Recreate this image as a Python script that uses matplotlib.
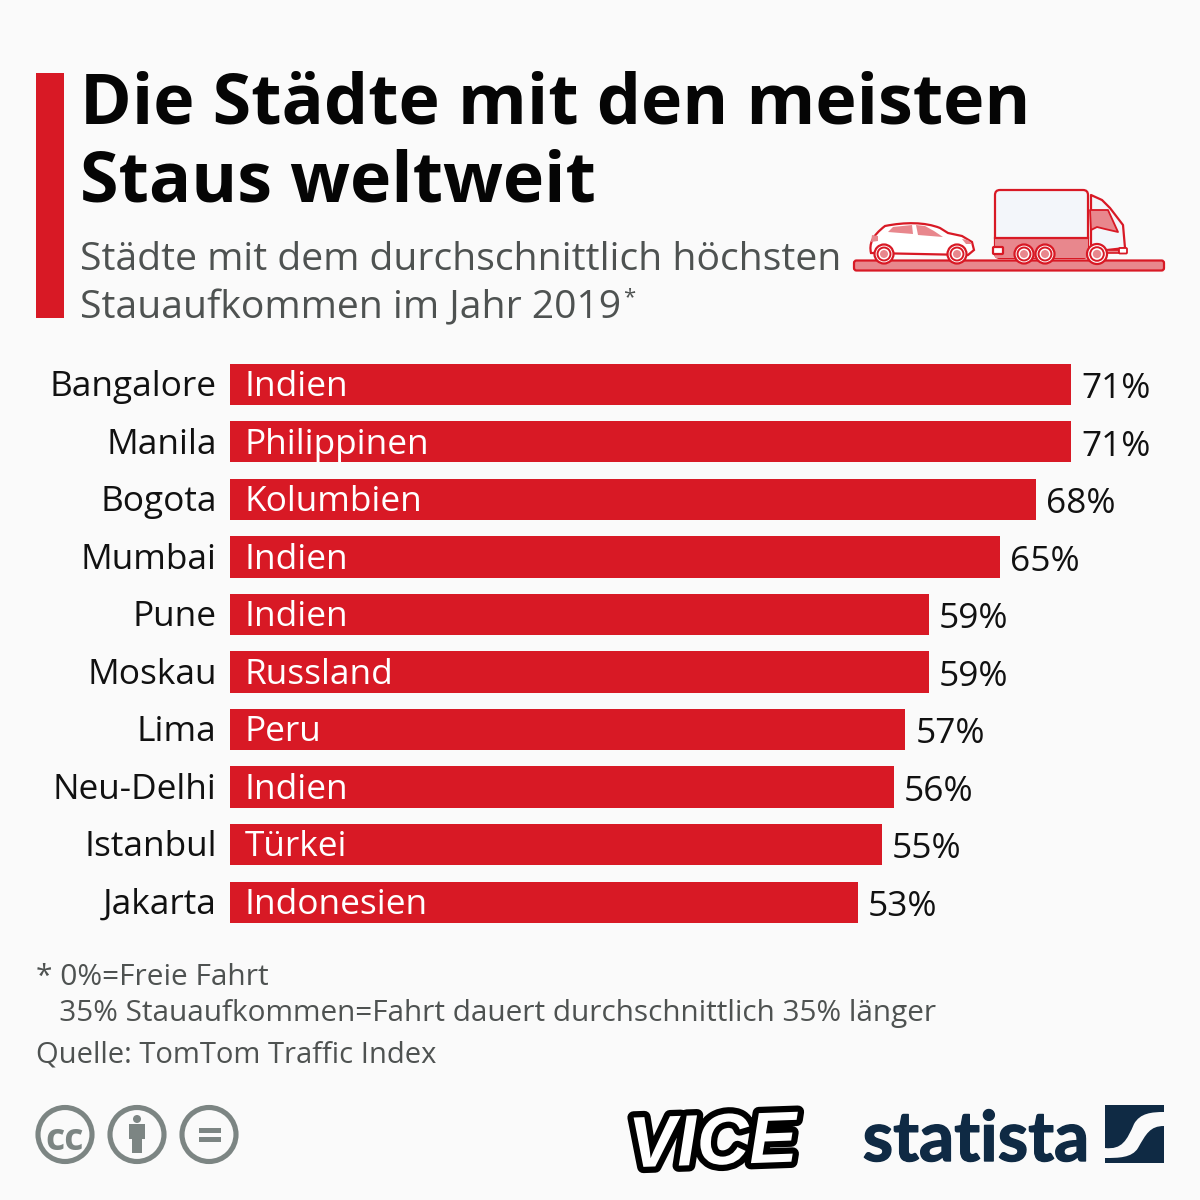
import matplotlib
matplotlib.use("Agg")
import matplotlib.pyplot as plt
import matplotlib.patheffects as pe
from matplotlib.patches import Rectangle, Circle, FancyBboxPatch, Polygon, PathPatch
from matplotlib.path import Path

cities = ["Bangalore", "Manila", "Bogota", "Mumbai", "Pune", "Moskau", "Lima", "Neu-Delhi", "Istanbul", "Jakarta"]
countries = ["Indien", "Philippinen", "Kolumbien", "Indien", "Indien", "Russland", "Peru", "Indien", "Türkei", "Indonesien"]
values = [71, 71, 68, 65, 59, 59, 57, 56, 55, 53]
title_lines = ["Die Städte mit den meisten", "Staus weltweit"]
subtitle_lines = ["Städte mit dem durchschnittlich höchsten", "Stauaufkommen im Jahr 2019"]
notes = ["* 0%=Freie Fahrt", "   35% Stauaufkommen=Fahrt dauert durchschnittlich 35% länger", "Quelle: TomTom Traffic Index"]

BG = "#fafafa"
RED = "#d81925"
PINK = "#e8878d"
GREY = "#7c8583"
NAVY = "#0f2a44"
TXT = "#111111"
SUB = "#4e5251"
FONT = "Open Sans"
plt.rcParams["font.family"] = [FONT, "DejaVu Sans"]

fig = plt.figure(figsize=(12, 12), dpi=100, facecolor=BG)

# pixel-space overlay
ov = fig.add_axes([0, 0, 1, 1], zorder=1)
ov.set_xlim(0, 1200); ov.set_ylim(1200, 0); ov.axis("off")

# bars
W, H = 1200, 1200
left, right = 230, 1071.3
top, bottom = 355.5, 931
ax = fig.add_axes([left / W, 1 - bottom / H, (right - left) / W, (bottom - top) / H], zorder=2)
ax.patch.set_alpha(0)
ax.set_xlim(0, 71)
ax.set_ylim(len(cities) - 0.5, -0.5)
ax.axis("off")
ypos = list(range(len(cities)))
ax.barh(ypos, values, height=0.718, color=RED)
for y, c, k, v in zip(ypos, cities, countries, values):
    ax.annotate(c, (0, y), xytext=(-13.5, 1.3), textcoords="offset pixels", ha="right", va="center_baseline", fontsize=25.4, color=TXT, annotation_clip=False)
    ax.annotate(k, (0, y), xytext=(14.5, 1.3), textcoords="offset pixels", ha="left", va="center_baseline", fontsize=25.4, color="white", annotation_clip=False)
    ax.annotate(f"{v}%", (v, y), xytext=(10, -0.7), textcoords="offset pixels", ha="left", va="center_baseline", fontsize=25.4, color=TXT, annotation_clip=False)

# header
ov.add_patch(Rectangle((36, 73), 28, 245, color=RED, lw=0))
ov.text(80, 123.5, title_lines[0], fontsize=50.4, fontweight="bold", color="#050505", va="baseline")
ov.text(80, 202, title_lines[1], fontsize=50.4, fontweight="bold", color="#050505", va="baseline")
ov.text(80, 270, subtitle_lines[0], fontsize=28.13, color=SUB, va="baseline")
ov.text(80, 318, subtitle_lines[1], fontsize=28.2, color=SUB, va="baseline")
ov.text(623, 303, "*", fontsize=16, color=SUB, va="baseline")

# notes
ov.text(36, 985, notes[0], fontsize=21.5, color=SUB, va="baseline")
ov.text(36, 1021, notes[1], fontsize=21.4, color=SUB, va="baseline")
ov.text(36, 1062.5, notes[2], fontsize=20.95, color=SUB, va="baseline")

def rbox(x, y, w, h, r, fc, ec=RED, lw=1.6, z=3):
    ov.add_patch(FancyBboxPatch((x + r, y + r), w - 2 * r, h - 2 * r, boxstyle=f"round,pad={r}", fc=fc, ec=ec, lw=lw, zorder=z))

def poly(pts, fc, ec=RED, lw=1.6, z=3):
    ov.add_patch(Polygon(pts, closed=True, fc=fc, ec=ec, lw=lw, zorder=z, joinstyle="round"))

def wheel(x, y, r=9.5):
    ov.add_patch(Circle((x, y), r, fc="white", ec=RED, lw=1.6, zorder=5))
    ov.add_patch(Circle((x, y), r * 0.68, fc="white", ec=RED, lw=1.4, zorder=5))
    ov.add_patch(Circle((x, y), r * 0.42, fc=PINK, ec="none", zorder=6))

# road
rbox(854, 260.5, 310, 10, 2.5, PINK)
# car
car = Path([(871, 253), (869, 244), (872, 236), (885, 226), (905, 222), (925, 222), (940, 228), (948, 233),
            (962, 236), (972, 242), (974, 250), (968, 255), (871, 255)],
           [Path.MOVETO, Path.CURVE4, Path.CURVE4, Path.CURVE4, Path.CURVE4, Path.CURVE4, Path.LINETO, Path.LINETO,
            Path.LINETO, Path.LINETO, Path.LINETO, Path.LINETO, Path.CLOSEPOLY])
ov.add_patch(PathPatch(car, fc="white", ec=RED, lw=1.6, zorder=3))
poly([(888, 232), (893, 227), (912, 225), (913, 234)], PINK, ec="none", z=4)
poly([(916, 225), (925, 226), (934, 231), (943, 237), (918, 235)], PINK, ec="none", z=4)
poly([(872, 235), (878, 236), (878, 241), (871, 242)], PINK, ec="none", z=4)
poly([(962, 239), (968, 240), (972, 244), (966, 244)], PINK, ec="none", z=4)
wheel(884, 254); wheel(957, 254)
# truck
rbox(995, 190, 93, 68, 5, "#f3f6fa")
ov.add_patch(Rectangle((995, 238), 93, 20, fc=PINK, ec="none", zorder=4))
ov.plot([995, 1088], [238, 238], color=RED, lw=1.6, zorder=4)
rbox(993, 247, 10, 7, 1, "white", z=4)
poly([(1091, 195), (1102, 200), (1110, 208), (1123, 225), (1125, 248), (1107, 250), (1091, 250)], "#f3f6fa")
poly([(1090, 210), (1108, 210), (1118, 232), (1105, 229), (1097, 227), (1091, 230)], PINK, lw=1.3, z=4)
ov.add_patch(Rectangle((1091, 250), 28, 2.5, fc=PINK, ec=RED, lw=1.2, zorder=4))
rbox(1119, 248, 8, 5.5, 1, "white", lw=1.3, z=4)
wheel(1024, 254); wheel(1045, 254); wheel(1097, 254, 10)

# licence icons
CY = 1134.5
def ring(x):
    ov.add_patch(Circle((x, CY), 27, fc="none", ec=GREY, lw=3.7, zorder=3))

ring(65); ring(137); ring(209)
ov.text(65, 1135, "cc", fontsize=27, fontweight="bold", color=GREY, ha="center", va="center_baseline", zorder=4)
ov.add_patch(Circle((137, 1119), 4, fc=GREY, ec="none", zorder=4))
poly([(129, 1124), (145, 1124), (145, 1139), (142, 1139), (142, 1153), (132, 1153), (132, 1139), (129, 1139)], GREY, ec="none", z=4)
ov.add_patch(Rectangle((199, 1128), 22, 5, fc=GREY, ec="none", zorder=4))
ov.add_patch(Rectangle((199, 1137), 22, 5, fc=GREY, ec="none", zorder=4))

# logos
vice = ov.text(713, 1135, "VICE", fontsize=52, fontweight="bold", style="italic", family="Liberation Sans", color="white",
               ha="center", va="center_baseline", zorder=4, rotation=2)
vice.set_path_effects([pe.withStroke(linewidth=9, foreground="black")])
stat = ov.text(976, 1161, "statista", fontsize=50, fontweight="bold", family="Lato", color=NAVY,
               ha="center", va="baseline", zorder=4)
stat.set_path_effects([pe.withStroke(linewidth=1, foreground=NAVY)])
ov.add_patch(Rectangle((1105, 1105), 59, 58, fc=NAVY, ec="none", zorder=4))
swoosh = Path([(1105, 1148), (1122, 1150), (1127, 1140), (1134, 1124), (1140, 1113), (1152, 1112), (1164, 1112),
               (1164, 1126), (1150, 1126), (1146, 1134), (1138, 1148), (1132, 1158), (1118, 1158), (1105, 1158)],
              [Path.MOVETO, Path.CURVE4, Path.CURVE4, Path.CURVE4, Path.CURVE4, Path.CURVE4, Path.CURVE4,
               Path.LINETO, Path.CURVE4, Path.CURVE4, Path.CURVE4, Path.CURVE4, Path.CURVE4, Path.CURVE4])
ov.add_patch(PathPatch(swoosh, fc=BG, ec="none", zorder=5))

fig.savefig("out.png", dpi=100, facecolor=BG)
